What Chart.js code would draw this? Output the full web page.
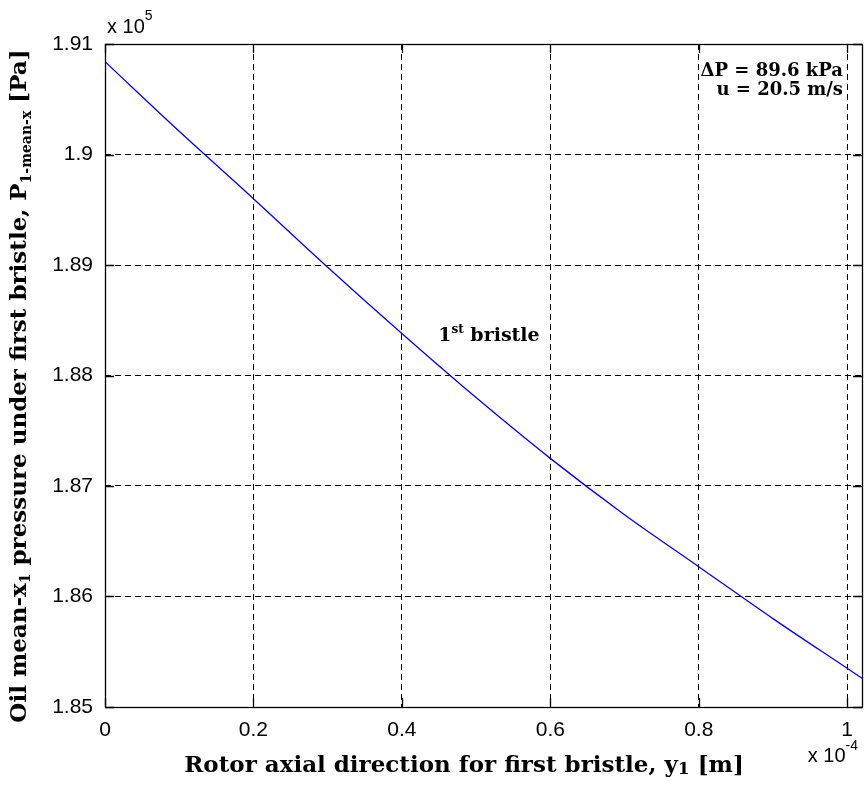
<!DOCTYPE html>
<html><head><meta charset="utf-8">
<script src="https://cdn.jsdelivr.net/npm/chart.js@4.4.0/dist/chart.umd.min.js"></script>
<style>html,body{margin:0;padding:0;background:#fff;}#wrap{width:865px;height:787px;position:relative;}</style>
</head><body><div id="wrap"><canvas id="c" width="865" height="787"></canvas></div>
<script>
// x in units of 1e-4 m, y in units of 1e5 Pa
const xValues = [0, 0.1, 0.2, 0.3, 0.4, 0.5, 0.6, 0.7, 0.8, 0.9, 1.0, 1.02];
const pressureValues = [1.9084, 1.9021, 1.8960, 1.8898, 1.8838, 1.8780, 1.8725, 1.8674, 1.8627, 1.8580, 1.8535, 1.8526];
const xTicks = [0, 0.2, 0.4, 0.6, 0.8, 1];
const yTicks = [1.85, 1.86, 1.87, 1.88, 1.89, 1.90, 1.91];
const xRange = [0, 1.02];
const yRange = [1.85, 1.91];

const SERIF = '"DejaVu Serif", serif';
const SANS = '"Liberation Sans", Arial, sans-serif';

function fmt(v){ return String(Number(v.toFixed(2))); }

function drawRuns(ctx, runs, x, y, align){
  let total = 0;
  runs.forEach(r => { ctx.font = r.font; r.w = ctx.measureText(r.text).width; total += r.w; });
  let cx = align === 'center' ? x - total/2 : (align === 'right' ? x - total : x);
  ctx.textAlign = 'left';
  runs.forEach(r => { ctx.font = r.font; ctx.fillText(r.text, cx, y + (r.dy||0)); cx += r.w; });
}

const decor = {
  id: 'decor',
  afterDraw(chart){
    const ctx = chart.ctx, a = chart.chartArea, sx = chart.scales.x, sy = chart.scales.y;
    ctx.save();
    ctx.strokeStyle = '#000'; ctx.lineWidth = 1.3; ctx.setLineDash([]);
    // inward ticks
    const tl = 9;
    ctx.beginPath();
    xTicks.forEach(v => { const p = Math.round(sx.getPixelForValue(v)) + 0.5;
      ctx.moveTo(p, a.bottom); ctx.lineTo(p, a.bottom - tl);
      ctx.moveTo(p, a.top); ctx.lineTo(p, a.top + tl); });
    yTicks.forEach(v => { const p = Math.round(sy.getPixelForValue(v)) + 0.5;
      ctx.moveTo(a.left, p); ctx.lineTo(a.left + tl, p);
      ctx.moveTo(a.right, p); ctx.lineTo(a.right - tl, p); });
    ctx.stroke();
    // box
    ctx.strokeRect(a.left + 0.5, a.top + 0.5, a.right - a.left, a.bottom - a.top);
    ctx.fillStyle = '#000';
    ctx.textBaseline = 'alphabetic';
    // exponent labels
    drawRuns(ctx, [{text:'x 10', font:'20px ' + SANS},
                   {text:'5', font:'14px ' + SANS, dy:-13}], a.left + 2, a.top - 11, 'left');
    drawRuns(ctx, [{text:'x 10', font:'20px ' + SANS},
                   {text:'-4', font:'14px ' + SANS, dy:-12}], 858, 762, 'right');
    // annotations
    ctx.textAlign = 'right';
    ctx.font = 'bold 18px ' + SERIF;
    ctx.fillText('\u0394P = 89.6 kPa', a.right - 19, a.top + 32);
    ctx.fillText('u = 20.5 m/s', a.right - 19, a.top + 51);
    drawRuns(ctx, [{text:'1', font:'bold 19px ' + SERIF},
                   {text:'st', font:'bold 12px ' + SERIF, dy:-8},
                   {text:' bristle', font:'bold 19px ' + SERIF}],
             sx.getPixelForValue(0.449), sy.getPixelForValue(1.8831), 'left');
    // x title
    drawRuns(ctx, [{text:'Rotor axial direction for first bristle, y', font:'bold 23px ' + SERIF},
                   {text:'1', font:'bold 17px ' + SERIF, dy:2},
                   {text:' [m]', font:'bold 23px ' + SERIF}], 464, 772, 'center');
    // y title
    ctx.save();
    ctx.translate(26, 386);
    ctx.rotate(-Math.PI/2);
    drawRuns(ctx, [{text:'Oil mean-x', font:'bold 23px ' + SERIF},
                   {text:'1', font:'bold 14px ' + SERIF, dy:4},
                   {text:' pressure under first bristle, P', font:'bold 23px ' + SERIF},
                   {text:'1-mean-x', font:'bold 14px ' + SERIF, dy:5},
                   {text:' [Pa]', font:'bold 23px ' + SERIF}], 0, 0, 'center');
    ctx.restore();
    ctx.restore();
  }
};

new Chart(document.getElementById('c'), {
  type: 'line',
  data: { datasets: [{
    data: xValues.map((x, i) => ({x: x, y: pressureValues[i]})),
    borderColor: '#0000ff', borderWidth: 1.3, pointRadius: 0, fill: false,
    cubicInterpolationMode: 'monotone'
  }]},
  options: {
    responsive: false, animation: false, devicePixelRatio: 1,
    layout: { padding: { left: 0, right: 3, top: 44, bottom: 0 } },
    plugins: { legend: { display: false }, tooltip: { enabled: false } },
    scales: {
      x: {
        type: 'linear', min: xRange[0], max: xRange[1],
        afterBuildTicks: s => { s.ticks = xTicks.map(v => ({value: v})); },
        afterFit: s => { s.height = 80; },
        ticks: { font: { family: SANS, size: 21 }, color: '#000', padding: 11, maxRotation: 0,
                 callback: v => fmt(v) },
        grid: { color: '#000', lineWidth: 1, drawTicks: false },
        border: { display: false, dash: [6, 4] }
      },
      y: {
        type: 'linear', min: yRange[0], max: yRange[1],
        afterBuildTicks: s => { s.ticks = yTicks.map(v => ({value: v})); },
        afterFit: s => { s.width = 105; },
        ticks: { font: { family: SANS, size: 21 }, color: '#000', padding: 12,
                 callback: v => fmt(v) },
        grid: { color: '#000', lineWidth: 1, drawTicks: false },
        border: { display: false, dash: [6, 4] }
      }
    }
  },
  plugins: [decor]
});
</script>
</body></html>
